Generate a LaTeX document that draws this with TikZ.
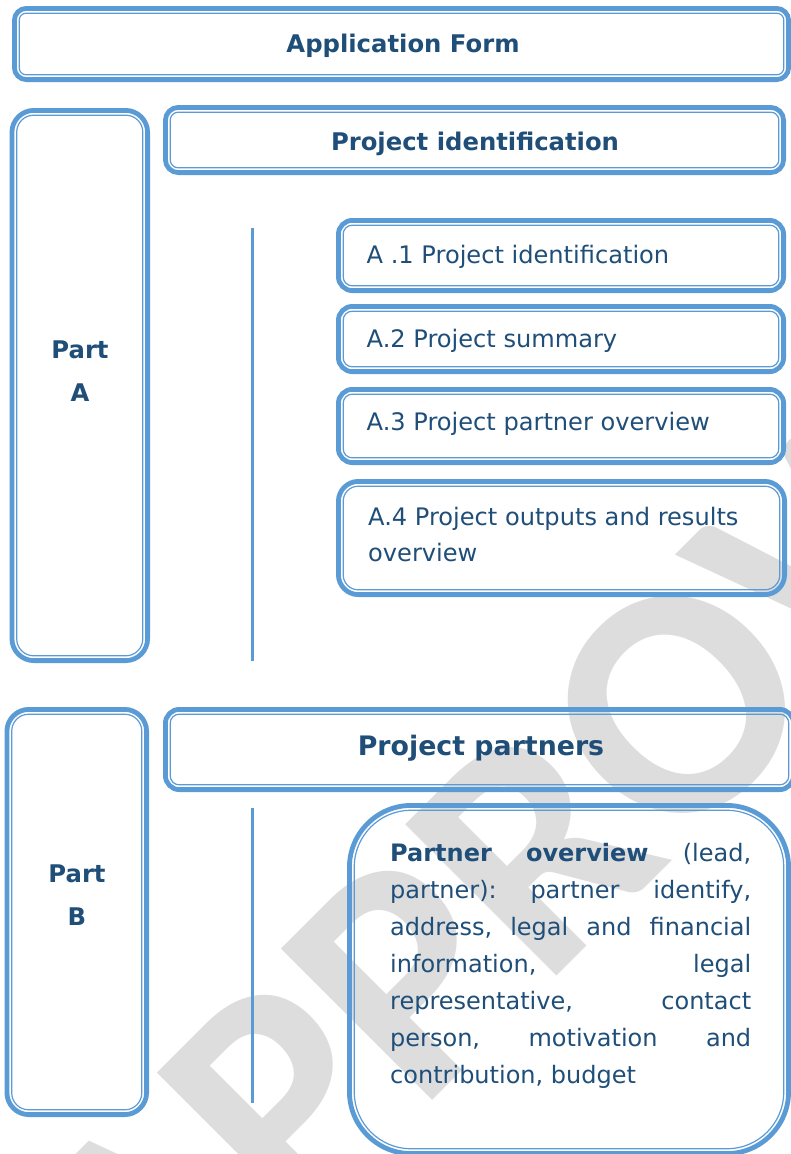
\documentclass[tikz,border=0pt]{standalone}
\usepackage{fontspec}
\setmainfont{DejaVu Sans}
\newfontfamily\wmfont{Carlito}
\definecolor{bordc}{HTML}{5B9BD5}
\definecolor{txtc}{HTML}{1F4E79}
\definecolor{wmc}{HTML}{DDDDDD}
\newcommand\dfr[5]{%
  \draw[outerln, rounded corners=#5pt] ({#1+2.4},{#2+2.4}) rectangle ({#3-2.4},{#4-2.4});
  \draw[innerln, rounded corners=#5pt-5pt] ({#1+7.2},{#2+7.2}) rectangle ({#3-7.2},{#4-7.2});
}
\begin{document}
\begin{tikzpicture}[x=1pt,y=-1pt,
  outerln/.style={draw=bordc, line width=4.8pt},
  innerln/.style={draw=bordc, line width=1.2pt},
  vline/.style={draw=bordc, line width=3pt},
  hd/.style={font=\bfseries\fontsize{24.3}{29}\selectfont, text=txtc, inner sep=0pt, anchor=base},
  bighd/.style={font=\bfseries\fontsize{26.8}{32}\selectfont, text=txtc, inner sep=0pt, anchor=base},
  item/.style={font=\fontsize{24.1}{29}\selectfont, text=txtc, inner sep=0pt, anchor=base west},
  ptxt/.style={font=\fontsize{24}{37}\selectfont, text=txtc, inner sep=0pt, anchor=base west},
  wm/.style={font=\wmfont\bfseries\fontsize{330}{330}\selectfont, text=wmc, inner sep=0pt, anchor=base}
]
\useasboundingbox (0,0) rectangle (791,1154);
\clip (0,0) rectangle (791,1154);
\fill[white] (0,0) rectangle (791,1154);

% watermark
\node[wm, rotate=45] (wmark) at (690,843) {APPROVED};

% frames
\dfr{12}{6}{791}{82}{12}
\dfr{9.5}{108}{150}{663}{22}
\dfr{163}{105}{786}{175}{13}
\dfr{336}{218}{786}{293}{14}
\dfr{336}{304}{786}{374}{14}
\dfr{336}{387}{786}{465}{14}
\dfr{336}{479}{787}{597}{20}
\dfr{4.5}{707}{149}{1117}{22}
\dfr{163}{707}{796}{792}{14}
\dfr{347}{803}{791}{1156}{62}

% vertical lines
\coordinate (la1) at (252,228);
\coordinate (la2) at (252,661);
\coordinate (lb1) at (252,808);
\coordinate (lb2) at (252,1103);
\draw[vline] (la1) -- (la2);
\draw[vline] (lb1) -- (lb2);

% texts
\node[hd] (appform) at (403,52) {Application Form};
\node[hd] (pidhead) at (475,150) {Project identification};
\node[hd] (partA1) at (80,358) {Part};
\node[hd] (partA2) at (80,401) {A};
\node[item] (a1) at (366.5,263) {A .1 Project identification};
\node[item] (a2) at (366.5,347) {A.2 Project summary};
\node[item] (a3) at (366.5,430) {A.3 Project partner overview};
\node[item] (a4) at (368,525) {\vtop{\baselineskip=36.5pt\hbox{A.4 Project outputs and results}\hbox{overview}}};

\node[bighd] (pphead) at (481,755) {Project partners};
\node[hd] (partB1) at (77,882) {Part};
\node[hd] (partB2) at (77,925) {B};
\node[ptxt] (pover) at (390,861) {\vtop{\hsize=361pt\baselineskip=37pt
  \hbox to\hsize{\textbf{Partner}\hfill\textbf{overview}\hfill(lead,}
  \hbox to\hsize{partner):\hfill partner\hfill identify,}
  \hbox to\hsize{address,\hfill legal\hfill and\hfill financial}
  \hbox to\hsize{information,\hfill legal}
  \hbox to\hsize{representative,\hfill contact}
  \hbox to\hsize{person,\hfill motivation\hfill and}
  \hbox to\hsize{contribution, budget\hfil}}};
\end{tikzpicture}
\end{document}
